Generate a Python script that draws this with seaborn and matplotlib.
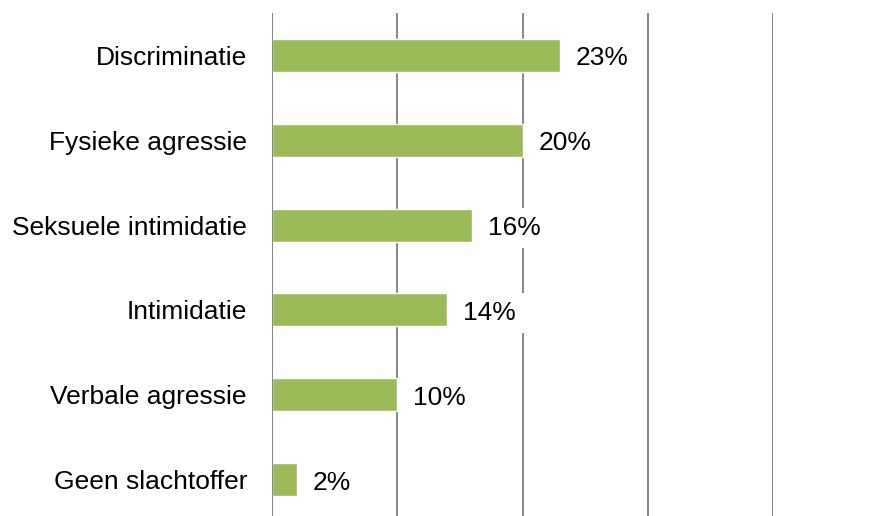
import matplotlib
matplotlib.use("Agg")
import matplotlib.pyplot as plt
import seaborn as sns
import pandas as pd

# data
categories = ["Discriminatie", "Fysieke agressie", "Seksuele intimidatie",
              "Intimidatie", "Verbale agressie", "Geen slachtoffer"]
values = [23, 20, 16, 14, 10, 2]
labels = ["23%", "20%", "16%", "14%", "10%", "2%"]

df = pd.DataFrame({"category": categories, "value": values})

sns.set_theme(style="white")
plt.rcParams["font.family"] = ["Liberation Sans", "DejaVu Sans"]

fig = plt.figure(figsize=(8.88, 5.16), dpi=100)
ax = fig.add_axes([272 / 888, -6 / 516, 501 / 888, 509 / 516])

sns.barplot(data=df, x="value", y="category", orient="h", color="#9BBB59",
            saturation=1, width=0.39, ax=ax, zorder=2)

ax.set_xlim(0, 40)
ax.set_ylim(len(categories) - 0.5, -0.5)
ax.set_xticks([0, 10, 20, 30, 40])
ax.xaxis.grid(True, color="#868686", linewidth=1.4, zorder=0)
ax.set_axisbelow(True)
ax.axvline(0, color="#868686", linewidth=1.4, zorder=3)
ax.tick_params(axis="x", length=0, labelbottom=False)
ax.tick_params(axis="y", length=0, labelsize=19, pad=18, colors="black")
for s in ax.spines.values():
    s.set_visible(False)
ax.set_xlabel("")
ax.set_ylabel("")

for i, (v, lab) in enumerate(zip(values, labels)):
    ax.annotate(lab, xy=(v, i), xytext=(16, -3), textcoords="offset pixels",
                ha="left", va="center", fontsize=19, color="black", zorder=3,
                bbox=dict(boxstyle="square,pad=0.3", facecolor="white",
                          edgecolor="none"))

fig.savefig("out.png", dpi=100)
